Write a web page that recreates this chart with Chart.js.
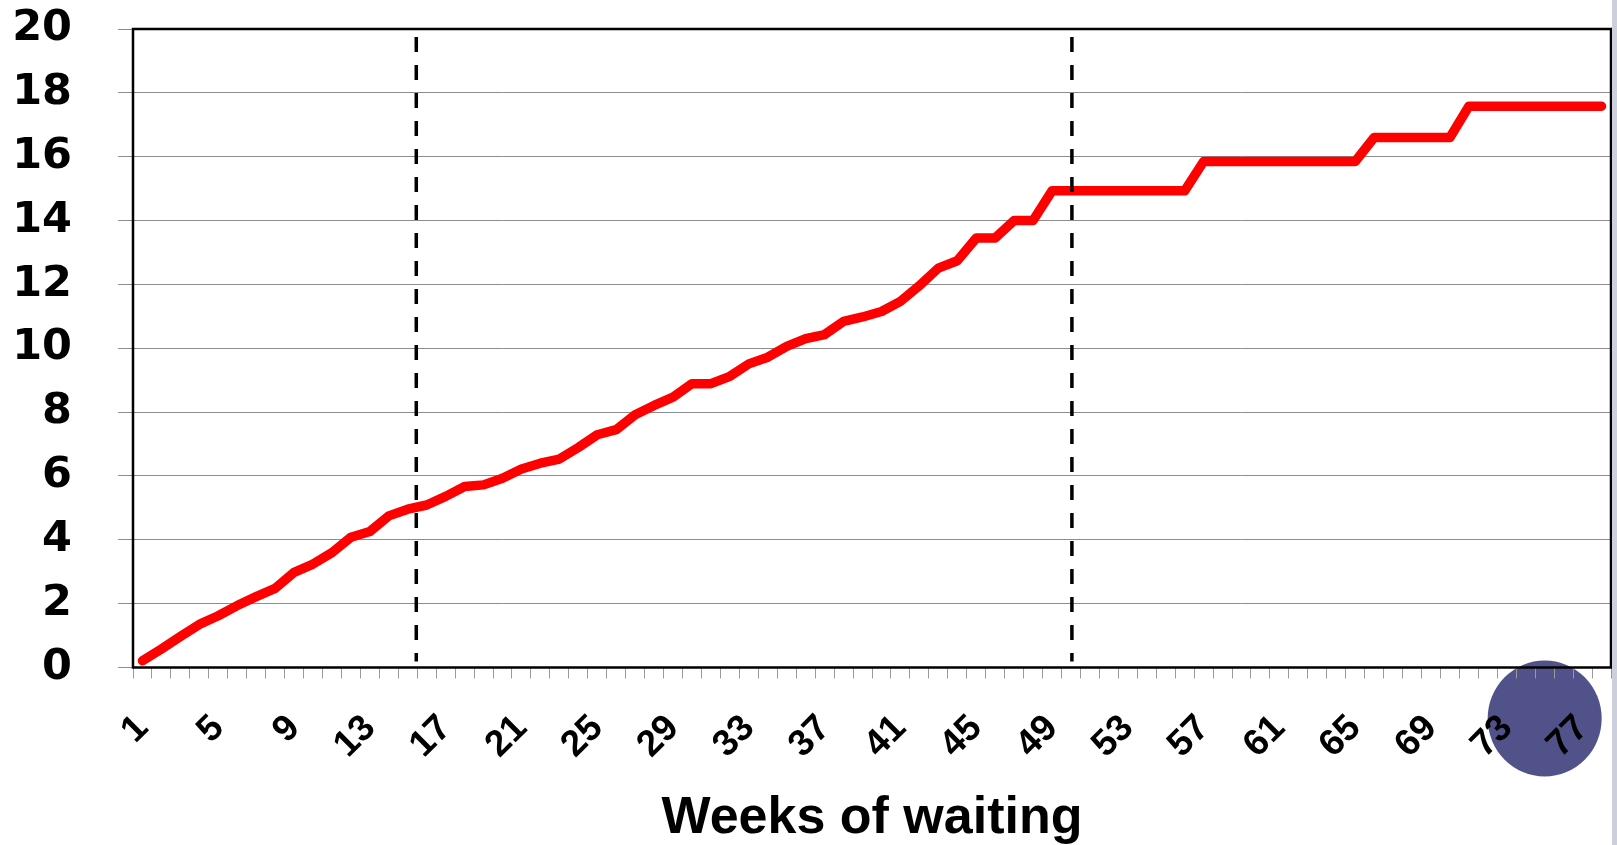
<!DOCTYPE html>
<html><head><meta charset="utf-8">
<script src="https://cdn.jsdelivr.net/npm/chart.js@4/dist/chart.umd.min.js"></script>
<style>
html,body{margin:0;padding:0;background:#fff;}
#wrap{position:relative;width:1617px;height:845px;}
#strip{position:absolute;right:0;top:0;width:5px;height:845px;background:#cdcfdc;}
</style></head><body>
<div id="wrap"><canvas id="c"></canvas><div id="strip"></div></div>
<script>
// Week numbers (categories)
const weeks = ["1","2","3","4","5","6","7","8","9","10","11","12","13","14","15","16","17","18","19","20",
"21","22","23","24","25","26","27","28","29","30","31","32","33","34","35","36","37","38","39","40",
"41","42","43","44","45","46","47","48","49","50","51","52","53","54","55","56","57","58","59","60",
"61","62","63","64","65","66","67","68","69","70","71","72","73","74","75","76","77","78"];

// Cumulative values
const values = [0.21,0.58,0.97,1.35,1.62,1.94,2.22,2.48,2.98,3.24,
3.60,4.08,4.26,4.75,4.96,5.09,5.36,5.67,5.72,5.93,
6.22,6.40,6.53,6.89,7.29,7.45,7.92,8.21,8.47,8.89,
8.89,9.12,9.51,9.72,10.06,10.30,10.43,10.84,10.98,11.15,
11.47,11.96,12.51,12.74,13.45,13.45,14.00,14.00,14.93,14.93,
14.93,14.93,14.93,14.93,14.93,14.93,15.85,15.85,15.85,15.85,
15.85,15.85,15.85,15.85,15.85,16.60,16.60,16.60,16.60,16.60,
17.58,17.58,17.58,17.58,17.58,17.58,17.58,17.58];

// Y tick settings
const yMin = 0, yMax = 20, yStep = 2;
// show every 4th week label
const labelEvery = 4;
// dashed marker positions (in weeks, fractional)
const markerWeeks = [15.45, 50.05];
// highlight circle centred under this week
const circleWeek = 75;
const axisTitle = "Weeks of waiting";

const decor = {
  id: 'decor',
  beforeDraw(chart) {
    const {ctx, chartArea, scales: {x}} = chart;
    ctx.save();
    ctx.fillStyle = '#52528a';
    ctx.beginPath();
    ctx.ellipse(x.getPixelForValue(circleWeek - 1), chartArea.bottom + 51, 57, 58, 0, 0, Math.PI * 2);
    ctx.fill();
    ctx.restore();
  },
  beforeDatasetsDraw(chart) {
    const {ctx, chartArea: a} = chart;
    ctx.save();
    ctx.strokeStyle = '#000';
    ctx.lineWidth = 2.5;
    ctx.strokeRect(a.left, a.top, a.right - a.left, a.bottom - a.top);
    ctx.restore();
  },
  afterDatasetsDraw(chart) {
    const {ctx, chartArea: a, scales: {x}} = chart;
    ctx.save();
    ctx.strokeStyle = '#000';
    ctx.lineWidth = 3.5;
    ctx.setLineDash([15, 13]);
    markerWeeks.forEach(w => {
      const px = x.getPixelForValue(w - 1);
      ctx.beginPath();
      ctx.moveTo(px, a.top + 8);
      ctx.lineTo(px, a.bottom - 6);
      ctx.stroke();
    });
    ctx.restore();
  }
};

new Chart(document.getElementById('c'), {
  type: 'line',
  data: {
    labels: weeks,
    datasets: [{
      data: values,
      borderColor: '#ff0000',
      borderWidth: 9.5,
      pointRadius: 0,
      tension: 0,
      fill: false,
      borderCapStyle: 'round',
      borderJoinStyle: 'round'
    }]
  },
  options: {
    responsive: true,
    maintainAspectRatio: false,
    animation: false,
    layout: {padding: {top: 29, right: 6, left: 0, bottom: 0}},
    plugins: {legend: {display: false}, tooltip: {enabled: false}},
    scales: {
      x: {
        type: 'category',
        offset: true,
        border: {display: false},
        grid: {offset: true, drawOnChartArea: false, drawTicks: true, tickLength: 11, color: '#9a9a9a', lineWidth: 1},
        ticks: {
          autoSkip: false, maxRotation: 45, minRotation: 45, padding: 28, color: '#000',
          font: {family: '"Liberation Sans", Arial, sans-serif', weight: 'bold', size: 37},
          callback(v, i) { return i % labelEvery === 0 ? this.getLabelForValue(v) : ''; }
        },
        title: {display: true, text: axisTitle, color: '#000',
          font: {family: '"Liberation Sans", Arial, sans-serif', weight: 'bold', size: 52},
          padding: {top: 0, bottom: -5}},
        afterFit(s) { s.height = 177.5; s.paddingLeft = 0; s.paddingRight = 0; }
      },
      y: {
        min: yMin, max: yMax,
        border: {display: false},
        grid: {color: '#8c8c8c', lineWidth: 1, tickLength: 15, drawTicks: true},
        ticks: {stepSize: yStep, padding: 46, color: '#000',
          font: {family: '"DejaVu Sans", sans-serif', weight: 'bold', size: 43}},
        afterFit(s) { s.width = 133; s.paddingTop = 0; s.paddingBottom = 0; }
      }
    }
  },
  plugins: [decor]
});
</script>
</body></html>
